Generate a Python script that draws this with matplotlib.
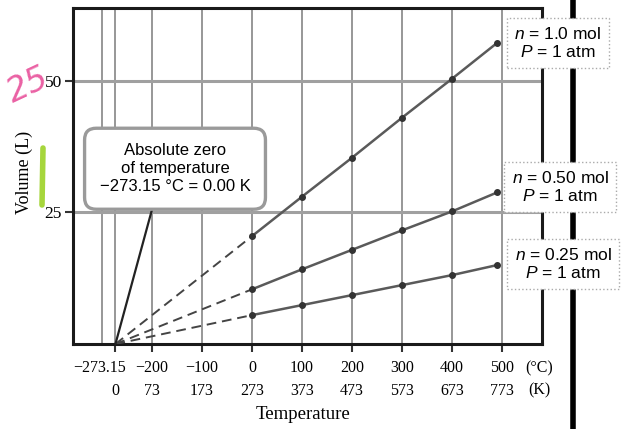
import matplotlib
matplotlib.use("Agg")
import matplotlib.pyplot as plt
from matplotlib.lines import Line2D

# Charles's law data
temps_c = [0, 100, 200, 300, 400, 490]
vol_100 = [20.5, 28.0, 35.4, 43.0, 50.4, 57.2]
vol_050 = [10.4, 14.2, 17.9, 21.6, 25.2, 28.8]
vol_025 = [5.5, 7.4, 9.3, 11.2, 13.1, 15.0]
series_labels = ["$n$ = 1.0 mol\n$P$ = 1 atm",
                 "$n$ = 0.50 mol\n$P$ = 1 atm",
                 "$n$ = 0.25 mol\n$P$ = 1 atm"]
abs_zero = -273.15
tick_c = [abs_zero, -200, -100, 0, 100, 200, 300, 400, 500]
tick_c_labels = ["", "−200", "−100", "0", "100", "200", "300", "400", "500"]
tick_k_labels = ["0", "73", "173", "273", "373", "473", "573", "673", "773"]

serif = ["Liberation Serif", "DejaVu Serif"]
sans = ["Liberation Sans", "DejaVu Sans"]
plt.rcParams["mathtext.fontset"] = "custom"
plt.rcParams["mathtext.it"] = "Liberation Sans:italic"

fig = plt.figure(figsize=(6.26, 4.29), dpi=100)
ax = fig.add_axes([0.1166, 0.198, 0.7494, 0.783])

ax.set_xlim(-358, 580)
ax.set_ylim(0, 63.8)

# grid
for t in [-300, abs_zero, -200, -100, 0, 100, 200, 300, 400, 500]:
    ax.axvline(t, color="#8f8f8f", lw=1.3, zorder=1)
for v in [25, 50]:
    ax.axhline(v, color="#a0a0a0", lw=2.2, zorder=1)

for vols in [vol_100, vol_050, vol_025]:
    ax.plot([abs_zero, temps_c[0]], [0, vols[0]], color="#444444", lw=1.4,
            dashes=(5, 3), zorder=3)
    ax.plot(temps_c, vols, color="#5a5a5a", lw=1.8, zorder=3)
    ax.plot(temps_c, vols, "o", color="#333333", ms=4, zorder=4)

for s in ax.spines.values():
    s.set_linewidth(2.2)
    s.set_color("#1a1a1a")

ax.set_yticks([25, 50])
ax.set_yticklabels(["25", "50"], family=serif, fontsize=12.5)
ax.set_xticks(tick_c)
ax.set_xticklabels(tick_c_labels, family=serif, fontsize=11.5)
ax.tick_params(axis="both", direction="out", length=6, width=1.5, color="#333333")
ax.tick_params(axis="x", pad=5.5)
ax.tick_params(axis="y", pad=2)

# Kelvin row under the Celsius row
sec = ax.secondary_xaxis(-0.107)
sec.set_xticks(tick_c)
sec.set_xticklabels(tick_k_labels, family=serif, fontsize=11.5)
sec.tick_params(length=0, pad=2)
sec.spines["bottom"].set_visible(False)

# the absolute-zero Celsius label sits left of its tick
ax.annotate("−273.15", xy=(abs_zero, 0), xycoords=("data", "axes fraction"),
            xytext=(7.5, -17.5), textcoords="offset points", ha="right", va="center",
            family=serif, fontsize=11.5)

fig.text(539 / 626, 1 - 368 / 429, "(°C)", family=serif, fontsize=11.5,
         ha="center", va="center")
fig.text(539 / 626, 1 - 390 / 429, "(K)", family=serif, fontsize=11.5,
         ha="center", va="center")
ax.set_xlabel("Temperature", family=serif, fontsize=13.5)
ax.xaxis.set_label_coords(0.49, -0.185)
ax.set_ylabel("Volume (L)", family=serif, fontsize=13)
ax.yaxis.set_label_coords(-0.085, 0.51)

# absolute zero callout
ax.annotate("Absolute zero\nof temperature\n−273.15 °C = 0.00 K",
            xy=(abs_zero, 0), xytext=(-154, 33.3),
            ha="center", va="center", family=sans, fontsize=12, linespacing=1.25,
            bbox=dict(boxstyle="round,pad=0.9,rounding_size=0.7", fc="white",
                      ec="#9a9a9a", lw=2.4),
            arrowprops=dict(arrowstyle="-", color="#222222", lw=1.6,
                            relpos=(0.375, 0), shrinkA=0, shrinkB=0),
            zorder=5)

# page edge line
fig.add_artist(Line2D([573 / 626, 573 / 626], [0, 1], color="black", lw=4))

# series labels on the right
label_pos = [(558, 43), (560, 187), (563, 264)]
for (px, py), txt in zip(label_pos, series_labels):
    fig.text(px / 626, 1 - py / 429, txt, ha="center", va="center",
             family=sans, fontsize=12.5, linespacing=1.15, zorder=10,
             bbox=dict(boxstyle="square,pad=0.45", fc="white", ec="#aaaaaa",
                       lw=1.0, ls=":"))

# handwritten scan marks
fig.text(0.045, 0.8, "25", color="#e8509a", fontsize=24, rotation=25,
         style="italic", ha="center", va="center", alpha=0.9)
fig.add_artist(Line2D([43 / 626, 42 / 626], [1 - 148 / 429, 1 - 205 / 429],
                      color="#a6d63c", lw=4, solid_capstyle="round"))

fig.savefig("out.png", dpi=100)
